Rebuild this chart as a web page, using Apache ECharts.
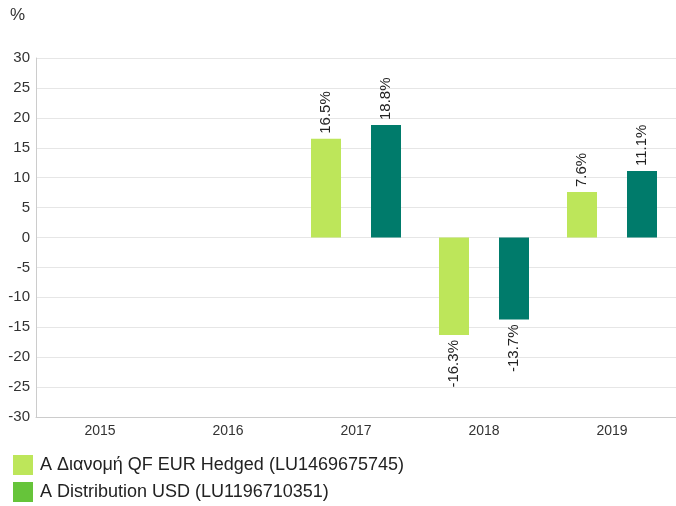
<!DOCTYPE html>
<html>
<head>
<meta charset="utf-8">
<script src="https://cdn.jsdelivr.net/npm/echarts@6/dist/echarts.min.js"></script>
<style>
  html, body { margin: 0; padding: 0; background: #fff; }
  #chart { width: 676px; height: 506px; }
</style>
</head>
<body>
<div id="chart"></div>
<script>
// data
const years = ['2015', '2016', '2017', '2018', '2019']
const seriesNames = [
  'A Διανομή QF EUR Hedged (LU1469675745)',
  'A Distribution USD (LU1196710351)'
]
const eurHedged = [null, null, 16.5, -16.3, 7.6]
const usdDist = [null, null, 18.8, -13.7, 11.1]

const barColors = ['#bde65a', '#007b6b']
const legendColors = ['#bde65a', '#66c43a']

const chart = echarts.init(document.getElementById('chart'))

// label above for positive bars, below for negative ones
const withLabels = (values) => values.map(v => {
  if (v === null) return null
  const up = v >= 0
  return {
    value: v,
    label: {
      show: true,
      position: up ? 'top' : 'bottom',
      rotate: 90,
      align: up ? 'left' : 'right',
      verticalAlign: 'middle',
      distance: 5,
      color: '#222',
      fontSize: 15,
      fontFamily: 'Liberation Sans, Arial, sans-serif',
      formatter: (p) => p.value.toFixed(1) + '%'
    }
  }
})

const option = {
  animation: false,
  textStyle: { fontFamily: 'Liberation Sans, Arial, sans-serif' },
  graphic: [{
    type: 'text',
    left: 10,
    top: 7,
    style: { text: '%', fontSize: 17, fill: '#333', fontFamily: 'Liberation Sans, Arial, sans-serif' }
  }],
  grid: { left: 36, right: -6, top: 58, bottom: 89 },
  legend: {
    orient: 'vertical',
    left: 13,
    top: 455,
    height: 60,
    padding: 0,
    itemWidth: 20,
    itemHeight: 20,
    itemGap: 7,
    icon: 'rect',
    textStyle: { fontSize: 18, color: '#222', padding: [0, 0, 0, 2] },
    data: seriesNames.map((n, i) => ({ name: n, itemStyle: { color: legendColors[i] } }))
  },
  xAxis: {
    type: 'category',
    data: years,
    axisLine: { onZero: false, lineStyle: { color: '#ccc' } },
    axisTick: { show: false },
    axisLabel: { color: '#333', fontSize: 14, margin: 7 }
  },
  yAxis: {
    type: 'value',
    min: -30,
    max: 30,
    interval: 5,
    axisLine: { show: true, lineStyle: { color: '#ccc' } },
    axisTick: { show: false },
    axisLabel: { color: '#333', fontSize: 15, margin: 6 },
    splitLine: { lineStyle: { color: '#e6e6e6' } }
  },
  series: [
    {
      name: seriesNames[0],
      type: 'bar',
      barWidth: 30,
      barGap: '100%',
      itemStyle: { color: barColors[0] },
      data: withLabels(eurHedged)
    },
    {
      name: seriesNames[1],
      type: 'bar',
      barWidth: 30,
      barGap: '100%',
      itemStyle: { color: barColors[1] },
      data: withLabels(usdDist)
    }
  ]
}

chart.setOption(option)
</script>
</body>
</html>
